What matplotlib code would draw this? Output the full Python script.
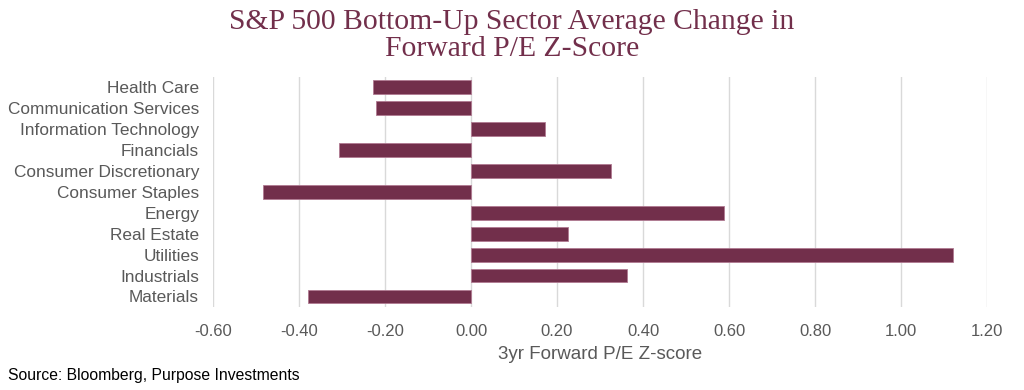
import matplotlib.pyplot as plt
import numpy as np

sectors = ["Health Care", "Communication Services", "Information Technology",
           "Financials", "Consumer Discretionary", "Consumer Staples",
           "Energy", "Real Estate", "Utilities", "Industrials", "Materials"]
zscore_chg = [-0.227, -0.222, 0.171, -0.307, 0.326, -0.484,
              0.588, 0.226, 1.121, 0.363, -0.378]
xticks = [-0.6, -0.4, -0.2, 0.0, 0.2, 0.4, 0.6, 0.8, 1.0, 1.2]

bar_col = "#722F4B"
txt_col = "#595959"

fig = plt.figure(figsize=(10.24, 3.9), dpi=100)
ax = fig.add_axes([0.208, 0.213, 0.756, 0.59])

y = np.arange(len(sectors))
ax.barh(y, zscore_chg, height=0.66, color=bar_col, edgecolor="#B07A92",
        linewidth=0.6, zorder=3)
ax.set_ylim(len(sectors) - 0.5, -0.5)
ax.set_xlim(-0.6, 1.2)
ax.set_yticks(y)
ax.set_yticklabels(sectors, fontsize=12.4, color=txt_col, family="Liberation Sans")
ax.set_xticks(xticks)
ax.set_xticklabels(["%.2f" % v for v in xticks], fontsize=12, color=txt_col,
                   family="Liberation Sans")
ax.tick_params(axis="y", length=0, pad=10)
ax.tick_params(axis="x", length=0, pad=12)
ax.grid(axis="x", color="#D9D9D9", linewidth=1, zorder=0)
for s in ax.spines.values():
    s.set_visible(False)

ax.set_xlabel("3yr Forward P/E Z-score", fontsize=13.5, color=txt_col,
              family="Liberation Sans", labelpad=5)

fig.text(0.5, 0.978, "S&P 500 Bottom-Up Sector Average Change in\nForward P/E Z-Score",
         ha="center", va="top", fontsize=21.3, color=bar_col,
         family="Liberation Serif", linespacing=1.05)
fig.text(0.008, 0.025, "Source: Bloomberg, Purpose Investments", fontsize=11.3,
         color="black", family="Liberation Sans")

fig.savefig("out.png", dpi=100)
